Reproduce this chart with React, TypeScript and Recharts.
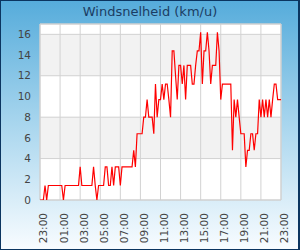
import React from 'react';
import { LineChart, Line, XAxis, YAxis, CartesianGrid, ReferenceArea } from 'recharts';

const title = 'Windsnelheid (km/u)';
const tickLabels = ['23:00', '01:00', '03:00', '05:00', '07:00', '09:00', '11:00', '13:00', '15:00', '17:00', '19:00', '21:00', '23:00'];
const yTicks = [0, 2, 4, 6, 8, 10, 12, 14, 16];
// 10-minute samples from 23:00 to 23:00
const windSpeed = [
  0, 0, 0, 1.4, 0, 1.4, 1.4, 1.4, 1.4, 1.4,
  1.4, 1.4, 1.4, 1.4, 0, 1.4, 1.4, 1.4, 1.4, 1.4,
  1.4, 1.4, 1.4, 1.4, 3.2, 1.4, 1.4, 1.4, 1.4, 1.4,
  1.4, 1.4, 3.2, 1.4, 0, 1.4, 1.4, 1.4, 1.4, 3.2,
  3.2, 1.4, 1.4, 3.2, 1.4, 3.2, 3.2, 3.2, 1.4, 3.2,
  3.2, 3.2, 3.2, 3.2, 3.2, 3.2, 4.8, 3.2, 6.4, 6.4,
  6.4, 6.4, 8.0, 8.0, 9.7, 8.0, 8.0, 8.0, 6.4, 11.2,
  8.0, 9.7, 9.7, 11.2, 9.7, 11.2, 11.2, 9.7, 8.0, 14.4,
  14.4, 12.0, 9.7, 13.0, 13.0, 11.2, 13.0, 9.7, 13.0, 13.0,
  13.0, 11.2, 11.2, 13.0, 14.4, 14.4, 16.2, 11.2, 14.4, 14.4,
  16.2, 14.4, 11.2, 13.0, 13.0, 13.0, 16.2, 14.4, 9.7, 11.2,
  11.2, 11.2, 11.2, 11.2, 11.2, 4.8, 9.7, 8.0, 9.7, 8.0,
  6.4, 6.4, 6.4, 3.2, 4.8, 4.8, 6.4, 6.4, 4.8, 6.4,
  6.4, 9.7, 8.0, 9.7, 8.0, 9.7, 8.0, 9.7, 8.0, 9.7,
  11.2, 11.2, 9.7, 9.7, 9.7,
];

const data = windSpeed.map((v, i) => ({ t: i, v }));
const xTicks = tickLabels.map((_, i) => i * 12);
const FONT = '"DejaVu Sans", Verdana, sans-serif';

export default function App() {
  return (
    <div
      style={{
        position: 'absolute',
        left: 0,
        top: 0,
        width: 300,
        height: 250,
        boxSizing: 'border-box',
        borderStyle: 'solid',
        borderColor: '#0b3560',
        borderWidth: '1px 2px 1px 1px',
        background: 'linear-gradient(to bottom, #56acdb 0%, #a9d6ee 50%, #f8fcff 100%)',
        fontFamily: FONT,
      }}
    >
      <div
        style={{
          position: 'absolute',
          left: -1,
          top: 2,
          width: 300,
          height: 18,
          lineHeight: '18px',
          textAlign: 'center',
          fontSize: 13,
          color: '#1b3d63',
        }}
      >
        {title}
      </div>
      <div style={{ position: 'absolute', left: -1, top: -1 }}>
        <LineChart width={300} height={250} data={data} margin={{ top: 24, right: 19, bottom: 0, left: 0 }}>
          <CartesianGrid
            stroke="#d2d2d2"
            fill="#ffffff"
            horizontalFill={['transparent', '#f2f2f2']}
          />
          <XAxis
            type="number"
            dataKey="t"
            domain={[0, 144]}
            ticks={xTicks}
            tickFormatter={(v: number) => tickLabels[Math.round(v / 12)]}
            interval={0}
            axisLine={false}
            tickLine={false}
            height={50}
            tickMargin={7}
            tick={{ angle: -90, textAnchor: 'end', verticalAnchor: 'middle', fontSize: 10.5, fill: '#444', fontFamily: FONT }}
          />
          <YAxis
            domain={[0, 17]}
            ticks={yTicks}
            allowDataOverflow
            axisLine={false}
            tickLine={false}
            width={40}
            tickMargin={3}
            tick={{ fontSize: 10.5, fill: '#444', fontFamily: FONT }}
          />
          <ReferenceArea x1={0} x2={144} y1={0} y2={17} fill="none" stroke="#cfcfcf" strokeWidth={1} ifOverflow="visible" />
          <Line
            type="linear"
            dataKey="v"
            stroke="#ff0000"
            strokeWidth={1.2}
            dot={false}
            isAnimationActive={false}
          />
        </LineChart>
      </div>
    </div>
  );
}
